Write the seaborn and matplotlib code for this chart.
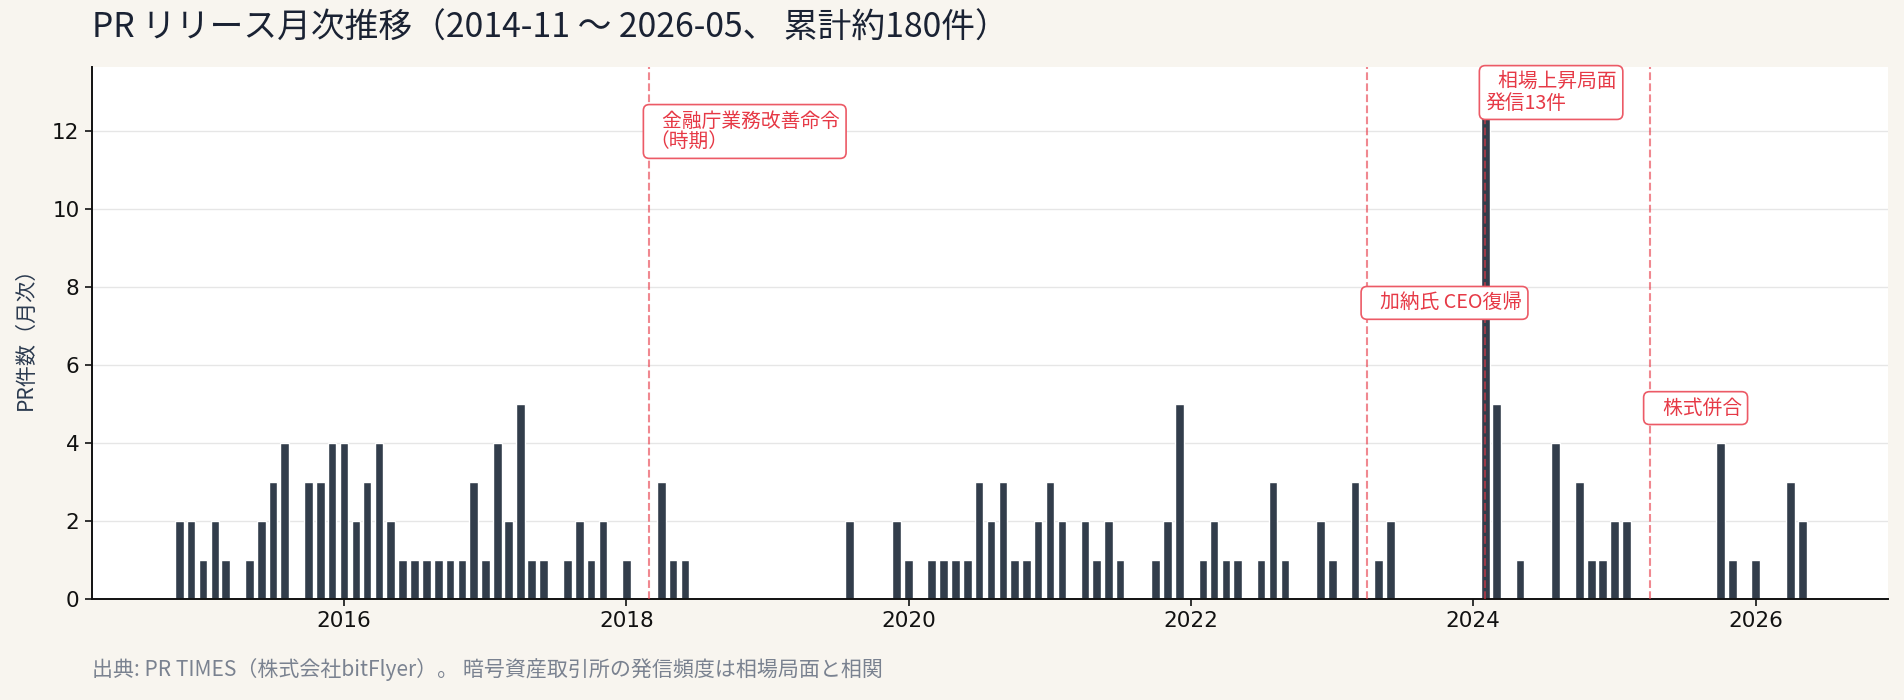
import numpy as np
import pandas as pd
import matplotlib
matplotlib.use('Agg')
import matplotlib.pyplot as plt
import matplotlib.dates as mdates
import seaborn as sns

# 月次 PR 件数 (2014-11 〜 2026-05)
months = pd.date_range('2014-11-01', '2026-05-01', freq='MS')
counts = [
    2, 2,                                     # 2014 (11-12)
    1, 2, 1, 0, 1, 2, 3, 4, 0, 3, 3, 4,       # 2015
    4, 2, 3, 4, 2, 1, 1, 1, 1, 1, 1, 3,       # 2016
    1, 4, 2, 5, 1, 1, 0, 1, 2, 1, 2, 0,       # 2017
    1, 0, 0, 3, 1, 1, 0, 0, 0, 0, 0, 0,       # 2018
    0, 0, 0, 0, 0, 0, 0, 2, 0, 0, 0, 2,       # 2019
    1, 0, 1, 1, 1, 1, 3, 2, 3, 1, 1, 2,       # 2020
    3, 2, 0, 2, 1, 2, 1, 0, 0, 1, 2, 5,       # 2021
    0, 1, 2, 1, 1, 0, 1, 3, 1, 0, 0, 2,       # 2022
    1, 0, 3, 0, 1, 2, 0, 0, 0, 0, 0, 0,       # 2023
    0, 13, 5, 0, 1, 0, 0, 4, 0, 3, 1, 1,      # 2024
    2, 2, 0, 0, 0, 0, 0, 0, 0, 4, 1, 0,       # 2025
    1, 0, 0, 3, 2,                            # 2026 (1-5)
]

# イベント
event_dates = ['2018-03-01', '2023-04-01', '2024-02-01', '2025-04-01']
event_labels = ['   金融庁業務改善命令\n（時期）', '   加納氏 CEO復帰', '   相場上昇局面\n発信13件', '   株式併合']
event_label_y = [12.0, 7.6, 13.0, 4.9]

df = pd.DataFrame({'month': months, 'count': counts})

sns.set_theme(style='white')
plt.rcParams['font.family'] = ['Noto Sans CJK JP', 'DejaVu Sans']

bg = '#f8f5ef'
bar_color = '#323d4b'
red = '#e63946'

fig, ax = plt.subplots(figsize=(19.04, 7), dpi=100)
fig.patch.set_facecolor(bg)
ax.set_facecolor('white')
fig.subplots_adjust(left=0.0483, right=0.9916, top=0.904, bottom=0.1443)

sns.barplot(data=df, x='month', y='count', native_scale=True, color=bar_color,
            saturation=1, errorbar=None, width=0.8, ax=ax, zorder=2)

ymax = max(counts) * 1.05
ax.set_ylim(0, ymax)
ax.set_xlim(pd.Timestamp('2014-03-20'), pd.Timestamp('2026-12-09'))
ax.set_yticks(np.arange(0, 13, 2))
ax.xaxis.set_major_locator(mdates.YearLocator(2))
ax.xaxis.set_major_formatter(mdates.DateFormatter('%Y'))

ax.grid(axis='y', color='#e6e6e6', linewidth=1, zorder=0)
ax.grid(axis='x', visible=False)
ax.set_axisbelow(True)
for side in ['top', 'right']:
    ax.spines[side].set_visible(False)
for side in ['left', 'bottom']:
    ax.spines[side].set_color('#111111')
    ax.spines[side].set_linewidth(1.4)
ax.tick_params(axis='both', which='major', length=5, width=1.2, color='#111111',
               labelsize=15.5, labelcolor='#111111', bottom=True, left=True, pad=4)
for lab in ax.get_xticklabels() + ax.get_yticklabels():
    lab.set_family('DejaVu Sans')

ax.set_xlabel('')
ax.set_ylabel('PR件数（月次）', fontsize=15.2, color='#2b3a4f')
ax.yaxis.set_label_coords(-0.0306, 0.5)

for d, lab, yy in zip(event_dates, event_labels, event_label_y):
    x = pd.Timestamp(d)
    ax.axvline(x, color=red, linestyle='--', linewidth=1.5, alpha=0.6, zorder=3)
    ax.text(x, yy, lab, color=red, fontsize=14.2, ha='left', va='center', zorder=5,
            linespacing=1.0,
            bbox=dict(boxstyle='round,pad=0.3', facecolor='white', edgecolor='#ec5a66', linewidth=1.2))

fig.text(0.0483, 1 - 28 / 700, 'PR リリース月次推移（2014-11 〜 2026-05、 累計約180件）',
         fontsize=24.3, color='#1a2233', ha='left', va='center')
fig.text(0.0483, 1 - 670 / 700, '出典: PR TIMES（株式会社bitFlyer）。 暗号資産取引所の発信頻度は相場局面と相関',
         fontsize=15.1, color='#7a8290', ha='left', va='center')

fig.savefig('out.png', dpi=100, facecolor=bg)
